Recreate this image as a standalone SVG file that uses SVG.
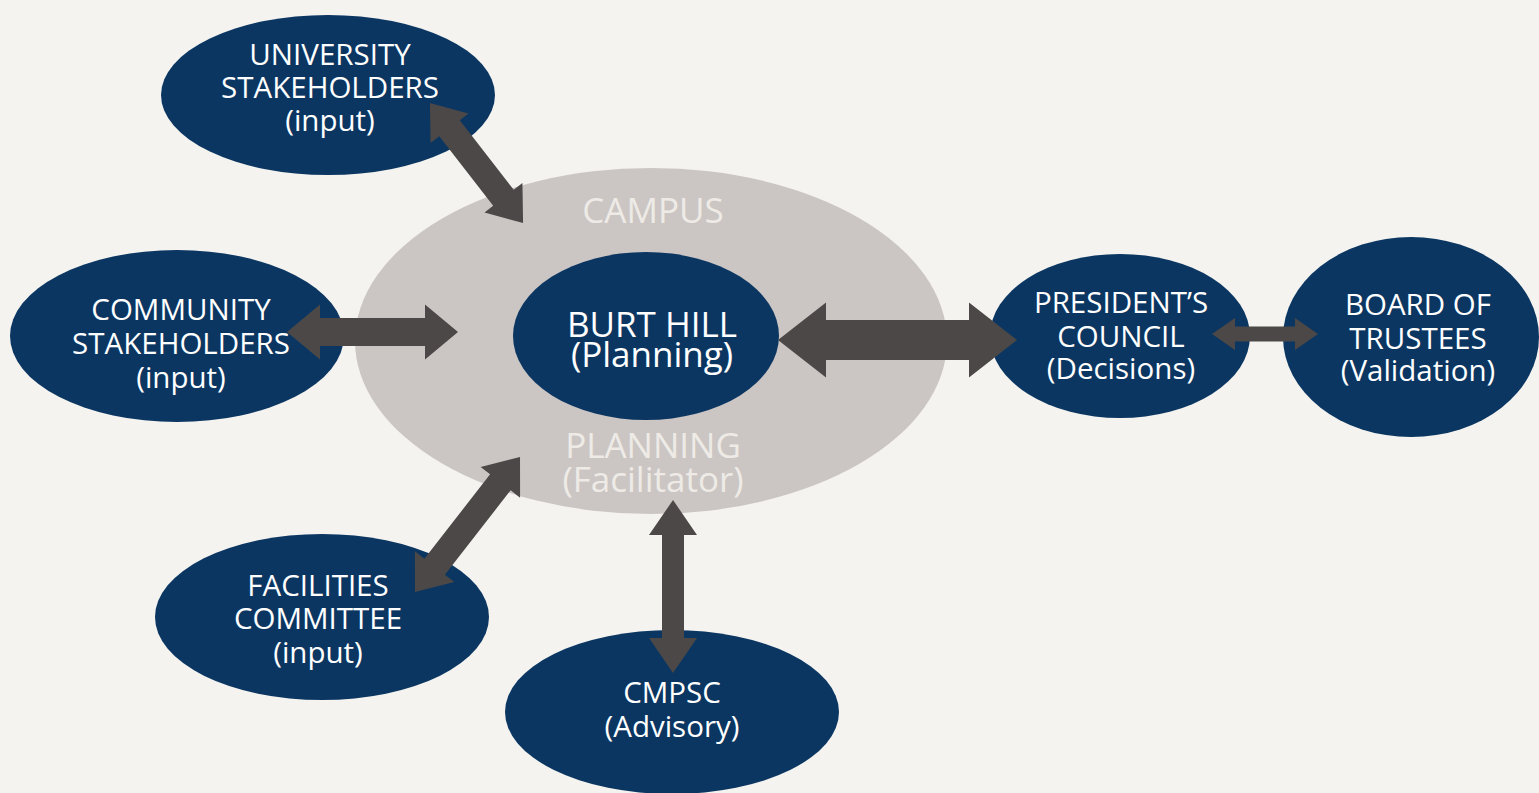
<svg xmlns="http://www.w3.org/2000/svg" width="1539" height="793" viewBox="0 0 1539 793">
<style>
.node{fill:#0b3662}
.t{font-family:"Open Sans","Noto Sans",sans-serif;font-size:29.5px;fill:#ffffff;text-anchor:middle}
.big{font-size:35px}
.lt{font-family:"Open Sans","Noto Sans",sans-serif;font-size:35px;fill:#eeebe7;text-anchor:middle}
.arr{fill:#4b4847}
</style>
<rect width="1539" height="793" fill="#f4f3ef"/>
<g id="campus-planning">
<ellipse cx="651" cy="341" rx="296" ry="173" fill="#cbc6c3"/>
<text class="lt" x="653" y="223">CAMPUS</text>
<text class="lt" x="653" y="458">PLANNING</text>
<text class="lt" x="653" y="492">(Facilitator)</text>
</g>
<g id="university">
<ellipse class="node" cx="328" cy="95" rx="167" ry="80"/>
<text class="t" x="330" y="65">UNIVERSITY</text>
<text class="t" x="330" y="98">STAKEHOLDERS</text>
<text class="t" x="330" y="131">(input)</text>
</g>
<g id="community">
<ellipse class="node" cx="177" cy="336" rx="167" ry="86"/>
<text class="t" x="181" y="320">COMMUNITY</text>
<text class="t" x="181" y="354">STAKEHOLDERS</text>
<text class="t" x="181" y="388">(input)</text>
</g>
<g id="facilities">
<ellipse class="node" cx="322" cy="617" rx="167" ry="83"/>
<text class="t" x="318" y="596">FACILITIES</text>
<text class="t" x="318" y="629">COMMITTEE</text>
<text class="t" x="318" y="663">(input)</text>
</g>
<g id="cmpsc">
<ellipse class="node" cx="672" cy="712" rx="167" ry="82"/>
<text class="t" x="672" y="703">CMPSC</text>
<text class="t" x="672" y="737">(Advisory)</text>
</g>
<g id="burt-hill">
<ellipse class="node" cx="646" cy="336" rx="133" ry="84"/>
<text class="t big" x="652" y="337">BURT HILL</text>
<text class="t big" x="652" y="367">(Planning)</text>
</g>
<g id="presidents-council">
<ellipse class="node" cx="1120" cy="336" rx="130" ry="82"/>
<text class="t" x="1121" y="313">PRESIDENT’S</text>
<text class="t" x="1121" y="347">COUNCIL</text>
<text class="t" x="1121" y="379">(Decisions)</text>
</g>
<g id="board">
<ellipse class="node" cx="1411" cy="337" rx="128" ry="100"/>
<text class="t" x="1418" y="315">BOARD OF</text>
<text class="t" x="1418" y="349">TRUSTEES</text>
<text class="t" x="1418" y="381">(Validation)</text>
</g>
<g id="connectors" class="arr">
<polygon transform="translate(476.5,163) rotate(52.2)" points="-76,0 -44,-24 -44,-13 44,-13 44,-24 76,0 44,24 44,13 -44,13 -44,24"/>
<polygon transform="translate(372.5,332)" points="-85.5,0 -52.5,-27.5 -52.5,-14 52.5,-14 52.5,-27.5 85.5,0 52.5,27.5 52.5,14 -52.5,14 -52.5,27.5"/>
<polygon transform="translate(467.5,524.5) rotate(127.9)" points="-85.5,0 -53.5,-25 -53.5,-13 53.5,-13 53.5,-25 85.5,0 53.5,25 53.5,13 -53.5,13 -53.5,25"/>
<polygon transform="translate(673,586.5) rotate(90)" points="-86.5,0 -51.5,-24 -51.5,-11 51.5,-11 51.5,-24 86.5,0 51.5,24 51.5,11 -51.5,11 -51.5,24"/>
<polygon transform="translate(897.5,340)" points="-119.5,0 -71.5,-37.5 -71.5,-20 71.5,-20 71.5,-37.5 119.5,0 71.5,37.5 71.5,20 -71.5,20 -71.5,37.5"/>
<polygon transform="translate(1265,334)" points="-53,0 -30,-16 -30,-7.5 30,-7.5 30,-16 53,0 30,16 30,7.5 -30,7.5 -30,16"/>
</g>
</svg>
